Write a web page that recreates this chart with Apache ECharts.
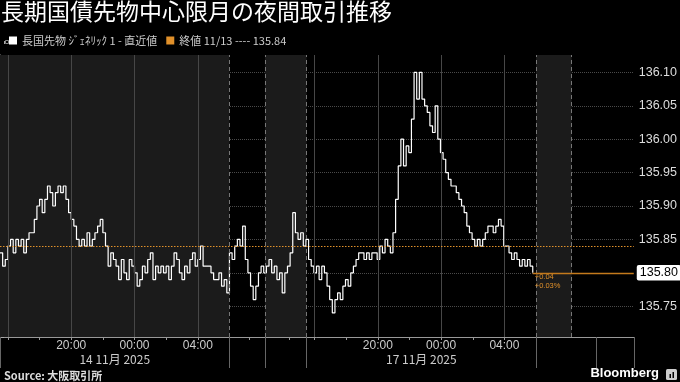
<!DOCTYPE html>
<html><head><meta charset="utf-8">
<script src="https://cdn.jsdelivr.net/npm/echarts@6/dist/echarts.min.js"></script>
<style>html,body{margin:0;padding:0;background:#000;}#c{width:680px;height:382px;}</style>
</head><body><div id="c"></div>
<script>
// ---- texts ----
const titleText = '長期国債先物中心限月の夜間取引推移';
const seriesName = '長国先物 ｼﾞｪﾈﾘｯｸ 1 - 直近値';
const refName = '終値 11/13 ---- 135.84';
const sourceText = 'Source: 大阪取引所';
const brandText = 'Bloomberg';
const changeLines = ['+0.04', '+0.03%'];

// ---- data (10-minute samples; x = hours from 14 Nov 15:30 on a session-compressed axis) ----
const stepHours = 1 / 6;
const refClose = 135.84;
const session1Prices = [
  135.83,135.81,135.82,135.84,135.85,135.83,135.85,135.84,135.85,135.83,
  135.85,135.86,135.86,135.88,135.90,135.91,135.89,135.91,135.93,135.92,
  135.90,135.92,135.93,135.92,135.93,135.91,135.89,135.88,135.87,135.85,
  135.84,135.85,135.84,135.86,135.84,135.85,135.86,135.87,135.88,135.86,
  135.84,135.81,135.83,135.82,135.81,135.79,135.82,135.80,135.79,135.82,
  135.81,135.80,135.78,135.79,135.81,135.80,135.82,135.83,135.79,135.81,
  135.80,135.81,135.80,135.81,135.79,135.81,135.83,135.82,135.80,135.79,
  135.81,135.80,135.82,135.83,135.81,135.82,135.84,135.81,135.81,135.81,
  135.80,135.79,135.79,135.80,135.78,135.79,135.77,135.83
];
const bridgePrices = [
  135.82,135.84,135.85,135.84,135.87,135.82,135.80,135.78,135.76,135.78,
  135.80,135.81,135.80,135.81,135.82,135.80,135.81,135.79,135.80,135.77,
  135.80,135.81,135.83,135.89,135.86,135.85,135.86,135.84,135.85
];
const session2Prices = [
  135.82,135.81,135.80,135.81,135.79,135.81,135.80,135.78,135.76,135.74,
  135.76,135.77,135.76,135.78,135.79,135.78,135.80,135.81,135.82,135.83,
  135.83,135.82,135.83,135.82,135.83,135.83,135.82,135.84,135.83,135.85,
  135.84,135.83,135.86,135.91,135.96,136.00,135.96,135.99,135.98,136.03,
  136.10,136.06,136.10,136.06,136.05,136.04,136.02,136.01,136.05,136.00,
  135.98,135.97,135.95,135.94,135.93,135.93,135.92,135.91,135.90,135.89,
  135.87,135.86,135.85,135.84,135.85,135.84,135.85,135.86,135.87,135.87,
  135.86,135.87,135.88,135.87,135.84,135.84,135.83,135.82,135.83,135.82,
  135.81,135.82,135.81,135.82,135.81,135.80
];

// ---- axis structure (hours on the compressed axis) ----
const axisMaxHours = 40.05;
const shadedSpans = [[0, 14.5], [16.74, 19.375], [33.875, 36.13]];
const separatorHours = [14.5, 16.74, 19.375, 33.875, 36.13];
const gridHours = [0.5, 4.5, 8.5, 12.5, 19.875, 23.875, 27.875, 31.875];
const tickHours = [0.5, 2.5, 4.5, 6.5, 8.5, 10.5, 12.5, 15.73, 18.26, 19.875, 21.875, 23.875, 25.875, 27.875, 29.875, 31.875];
const timeLabelHours = [4.5, 8.5, 12.5, 23.875, 27.875, 31.875];
const timeLabelTexts = ['20:00', '00:00', '04:00', '20:00', '00:00', '04:00'];
const dateLabelHours = [7.25, 26.625];
const dateLabelTexts = ['14 11月 2025', '17 11月 2025'];
const dayBoundaryHours = [0, 14.5, 16.74, 19.375, 33.875, 37.65, 40.05];
const yMin = 135.704, yMax = 136.126;

// ---- build ----
const prices = session1Prices.concat(bridgePrices, session2Prices);
const lineData = prices.map((p, i) => [i * stepHours, p]);
const last = lineData[lineData.length - 1];
function lookup(hours, texts) {
  return v => { const k = hours.findIndex(h => Math.abs(h - v) < 1e-6); return k < 0 ? '' : texts[k]; };
}
const FONT = "'Liberation Sans', 'Noto Sans CJK JP', sans-serif";
const CJK = "'Noto Sans CJK JP', 'Liberation Sans', sans-serif";
const ORANGE = '#e0902a';

const chart = echarts.init(document.getElementById('c'), null, {renderer: 'canvas'});
chart.setOption({
  backgroundColor: '#000',
  animation: false,
  textStyle: {fontFamily: FONT},
  title: [
    {text: titleText, left: 1, top: 0, padding: 0,
     textStyle: {color: '#fff', fontSize: 23, fontWeight: 'normal', fontFamily: CJK}},
    {text: sourceText, left: 4, bottom: 1, padding: 0,
     textStyle: {color: '#ddd', fontSize: 11, fontWeight: 'bold', fontFamily: CJK}},
    {text: brandText, right: 21, bottom: 2, padding: 0,
     textStyle: {color: '#fff', fontSize: 13, fontWeight: 'bold', fontFamily: FONT}}
  ],
  legend: {
    left: 9, top: 35, padding: 0, itemGap: 9, itemWidth: 8, itemHeight: 8,
    icon: 'rect',
    textStyle: {color: '#ccc', fontSize: 11, fontFamily: CJK},
    data: [{name: seriesName, itemStyle: {color: '#fff'}}, {name: refName, itemStyle: {color: ORANGE}}]
  },
  graphic: [
    {type: 'rect', left: 3, top: 38, shape: {width: 3, height: 3}, style: {fill: 'none', stroke: '#aaa', lineWidth: 0.8}},
    {type: 'rect', left: 4, top: 41, shape: {width: 1, height: 3}, style: {fill: '#aaa'}},
    {type: 'rect', right: 3, bottom: 2, shape: {width: 11, height: 11, r: 1.5}, style: {fill: '#ccc'}},
    {type: 'rect', right: 6, bottom: 4, shape: {width: 1.5, height: 6}, style: {fill: '#000'}},
    {type: 'rect', right: 9, bottom: 4, shape: {width: 1.5, height: 4}, style: {fill: '#000'}}
  ],
  grid: {left: 0, right: 46, top: 55, bottom: 45, containLabel: false},
  xAxis: [
    {type: 'value', min: 0, max: axisMaxHours, position: 'bottom',
     axisLine: {show: true, lineStyle: {color: '#999', width: 1}},
     axisTick: {show: true, length: 3, customValues: tickHours, lineStyle: {color: '#999'}},
     axisLabel: {show: true, customValues: timeLabelHours, formatter: lookup(timeLabelHours, timeLabelTexts),
                 color: '#ccc', fontSize: 12, margin: 3},
     splitLine: {show: false}},
    {type: 'value', min: 0, max: axisMaxHours, position: 'bottom',
     axisLine: {show: false},
     axisTick: {show: true, length: 31, customValues: dayBoundaryHours, lineStyle: {color: '#666'}},
     axisLabel: {show: true, customValues: dateLabelHours, formatter: lookup(dateLabelHours, dateLabelTexts),
                 color: '#ccc', fontSize: 12, margin: 16, fontFamily: CJK},
     splitLine: {show: false}}
  ],
  yAxis: {
    type: 'value', position: 'right', min: yMin, max: yMax, splitNumber: 8, scale: true,
    axisLine: {show: true, lineStyle: {color: '#aaa'}},
    axisTick: {show: true, length: 4, lineStyle: {color: '#aaa'}},
    minorTick: {show: true, splitNumber: 2, length: 3, lineStyle: {color: '#888'}},
    axisLabel: {color: '#ddd', fontSize: 12.5, margin: 5, showMinLabel: false, showMaxLabel: false,
                formatter: v => v.toFixed(2)},
    splitLine: {show: true, showMinLine: false, showMaxLine: false, lineStyle: {color: '#4a4a4a', type: 'dotted'}}
  },
  series: [
    {
      name: '_frame', type: 'line', data: [], z: 1, silent: true,
      markArea: {silent: true, itemStyle: {color: '#1b1b1b'},
                 data: shadedSpans.map(([a, b]) => [{xAxis: a}, {xAxis: b}])},
      markLine: {silent: true, symbol: 'none', label: {show: false},
                 data: gridHours.map(h => ({xAxis: h, lineStyle: {color: '#474747', type: 'solid', width: 1}}))
                   .concat(separatorHours.map(h => ({xAxis: h, lineStyle: {color: '#777', type: [4, 3], width: 1}})))}
    },
    {
      name: refName, type: 'line', data: [], z: 2, color: ORANGE, silent: true,
      markLine: {silent: true, symbol: 'none', label: {show: false},
                 lineStyle: {color: ORANGE, type: [1.5, 1.5], width: 1},
                 data: [{yAxis: refClose}]}
    },
    {
      name: seriesName, type: 'line', data: lineData, z: 4, step: 'end', showSymbol: false,
      color: '#fff', lineStyle: {color: '#fff', width: 1.2},
      markLine: {silent: true, symbol: 'none',
                 lineStyle: {color: '#c47a1c', type: 'solid', width: 1.3},
                 label: {show: true, position: 'end', distance: 3, formatter: () => last[1].toFixed(2),
                         color: '#000', backgroundColor: '#fff', fontSize: 12.5, padding: [2, 3, 1, 3], borderRadius: 2},
                 data: [[{coord: [last[0], last[1]]}, {coord: [axisMaxHours, last[1]]}]]},
      markPoint: {silent: true, symbol: 'circle', symbolSize: 0,
                  label: {show: true, position: [2, 0], align: 'left', verticalAlign: 'top',
                          formatter: changeLines.join('\n'), color: ORANGE, fontSize: 7.5, lineHeight: 9},
                  data: [{coord: [last[0], last[1]]}]}
    }
  ]
});
</script></body></html>
